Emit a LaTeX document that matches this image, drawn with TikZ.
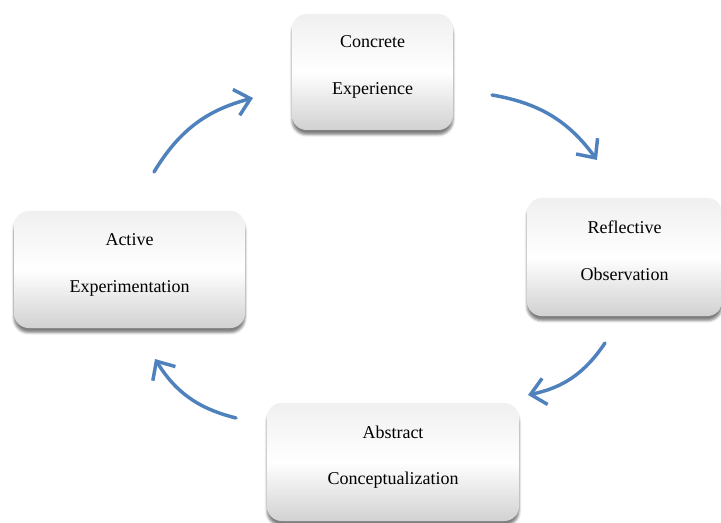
\documentclass[tikz,border=0pt]{standalone}
\usepackage{fontspec}
\setmainfont{Liberation Serif}
\usetikzlibrary{arrows.meta, shadows.blur}
\definecolor{arrowblue}{RGB}{79,129,189}

\begin{document}
\begin{tikzpicture}[x=0.75pt, y=0.75pt,
		stage/.style={rounded corners=11pt, top color=white!88!gray, bottom color=gray!36, middle color=white,
			blur shadow={shadow xshift=0pt, shadow yshift=-3.5pt, shadow opacity=50},
			align=center, text depth=10pt, font=\fontsize{13.5}{16}\selectfont},
		cycle/.style={line width=2.6pt, color=arrowblue, line cap=round,
			-{Straight Barb[length=11pt, width=20pt, line width=2.6pt]}, bend left=22}]
		\useasboundingbox (0,0) rectangle (721,522);
		% the four stages
		\node[stage, minimum width=120.75pt, minimum height=87pt] (CE) at (372.5,450) {Concrete\\[19pt]Experience};
		\node[stage, minimum width=146.25pt, minimum height=88.5pt] (RO) at (624.5,265) {Reflective\\[19pt]Observation};
		\node[stage, minimum width=189pt, minimum height=88.5pt] (AC) at (393,60) {Abstract\\[19pt]Conceptualization};
		\node[stage, minimum width=173.25pt, minimum height=87.75pt] (AE) at (129.5,252.5) {Active\\[19pt]Experimentation};
		% arrow ends
		\coordinate (A1) at (154,350);
		\coordinate (B1) at (253,424);
		\coordinate (A2) at (492,427);
		\coordinate (B2) at (597,362);
		\coordinate (A3) at (605,179);
		\coordinate (B3) at (528,127);
		\coordinate (A4) at (236,104);
		\coordinate (B4) at (155,163);
		\draw[cycle] (A1) to (B1);
		\draw[cycle] (A2) to (B2);
		\draw[cycle] (A3) to (B3);
		\draw[cycle] (A4) to (B4);
	\end{tikzpicture}
\end{document}
